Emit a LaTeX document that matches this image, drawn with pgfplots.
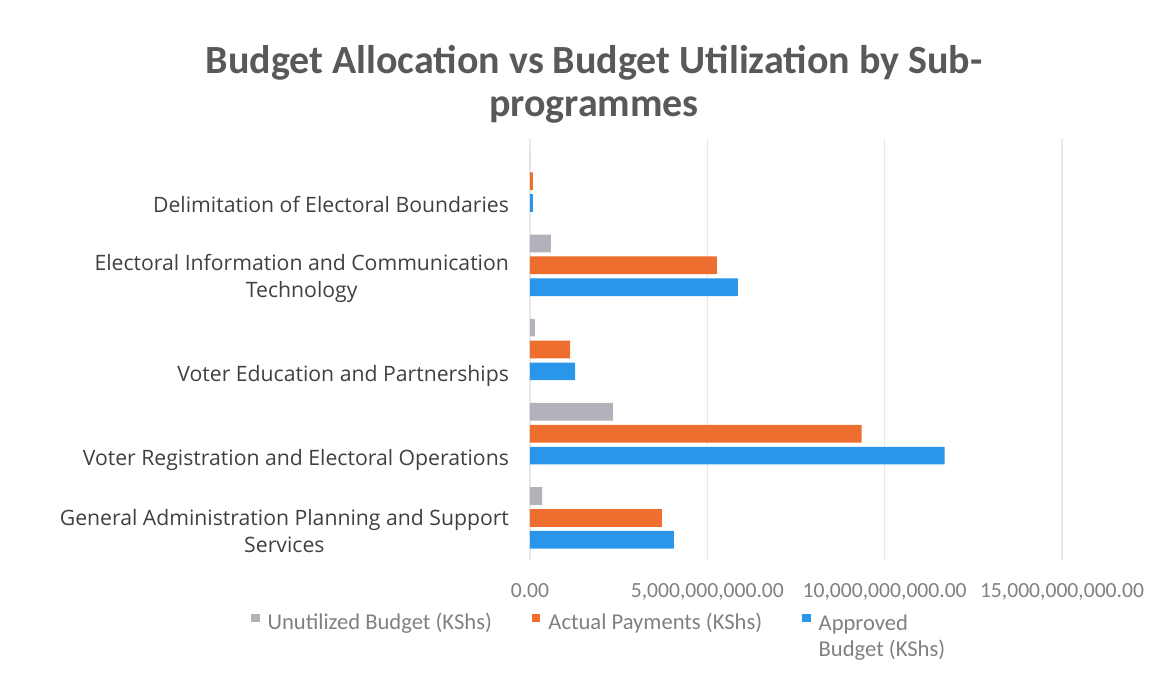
\documentclass[border=0pt]{standalone}
\usepackage{fontspec}
\setmainfont{Carlito}
\newfontfamily\labfont{Open Sans}
\usepackage{pgfplots}
\pgfplotsset{compat=1.18}

\definecolor{appr}{RGB}{41,150,233}
\definecolor{actl}{RGB}{237,110,47}
\definecolor{unut}{RGB}{178,178,186}
\definecolor{titlegray}{RGB}{89,89,89}
\definecolor{labgray}{RGB}{64,64,64}
\definecolor{tickgray}{RGB}{128,128,128}
\definecolor{gridgray}{RGB}{232,232,232}

\begin{document}
\begin{tikzpicture}
\useasboundingbox (-265pt,-61pt) rectangle (321.5pt,280pt);
\begin{axis}[
    at={(0,0)}, anchor=south west,
    scale only axis,
    width=266pt, height=210.5pt,
    xbar, bar shift=0pt, bar width=0.21,
    xmin=0, xmax=15e9,
    ymin=-0.5, ymax=4.5,
    scaled x ticks=false,
    axis line style={draw=none},
    major tick length=0pt,
    xmajorgrids, grid style={gridgray, line width=0.6pt},
    xtick={0,5e9,10e9,15e9},
    xticklabels={0.00,{5,000,000,000.00},{10,000,000,000.00},{15,000,000,000.00}},
    xticklabel style={font=\fontsize{10.8}{12}\selectfont, text=tickgray, yshift=-8pt},
    ytick={-0.160,0.691,1.691,2.846,3.727},
    yticklabels={
      {General Administration Planning and Support\\Services},
      {Voter Registration and Electoral Operations},
      {Voter Education and Partnerships},
      {Electoral Information and Communication\\Technology},
      {Delimitation of Electoral Boundaries}},
    yticklabel style={font=\labfont\fontsize{10.6}{13.5}\selectfont, text=labgray, align=center, xshift=-7pt},
    legend style={at={(0.132,-0.105)}, anchor=north, draw=none, fill=none,
      legend columns=3, font=\fontsize{11.3}{13}\selectfont, text=tickgray,
      /tikz/every odd column/.append style={column sep=2pt},
      /tikz/every even column/.append style={column sep=18pt}},
    legend image code/.code={\fill[#1] (0pt,0.5pt) rectangle (4.2pt,4.7pt);},
  ]
  % Unutilized Budget
  \addplot[fill=unut, draw=none] coordinates {
    (0.34e9,0.26) (2.34e9,1.26) (0.14e9,2.26) (0.59e9,3.26) (0.005e9,4.26)
  };
  % Actual Payments
  \addplot[fill=actl, draw=none] coordinates {
    (3.72e9,0) (9.35e9,1) (1.13e9,2) (5.27e9,3) (0.08e9,4)
  };
  % Approved Budget
  \addplot[fill=appr, draw=none] coordinates {
    (4.06e9,-0.26) (11.69e9,0.74) (1.27e9,1.74) (5.86e9,2.74) (0.08e9,3.74)
  };
  \legend{Unutilized Budget (KShs), Actual Payments (KShs),
    {\begin{tabular}[t]{@{}l@{}}Approved\\Budget (KShs)\end{tabular}}}
\end{axis}
\node[font=\bfseries\fontsize{20}{21.5}\selectfont, text=titlegray, align=center]
  at (32pt,238pt) {Budget Allocation vs Budget Utilization by Sub-\\programmes};
\end{tikzpicture}
\end{document}
